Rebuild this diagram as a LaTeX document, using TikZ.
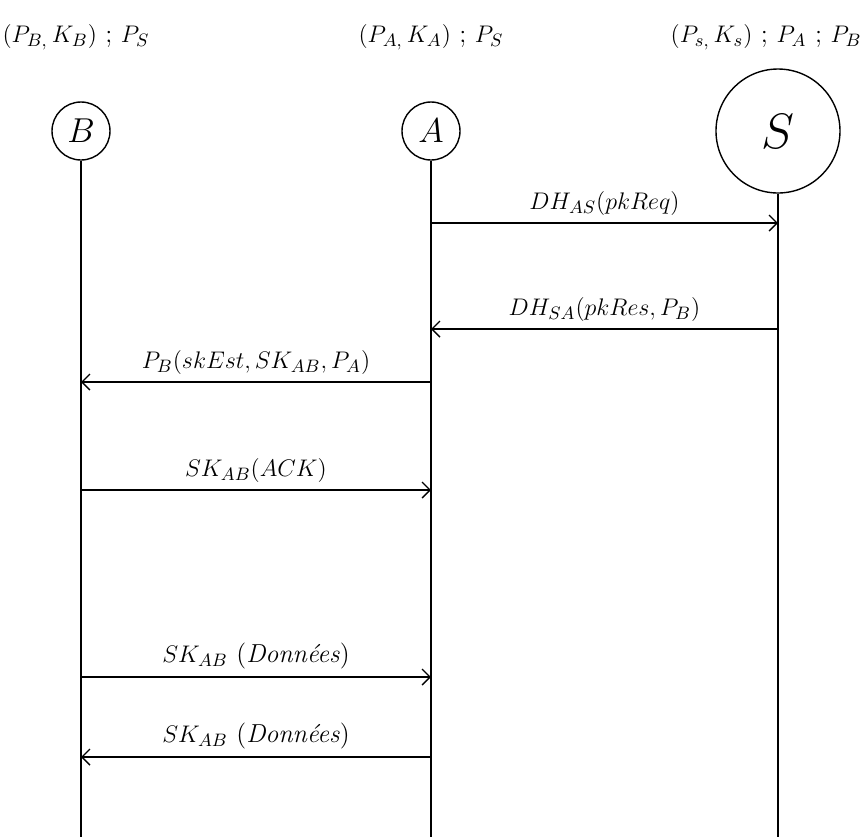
\documentclass[tikz,border=0pt]{standalone}
\usepackage{amsmath, amssymb}
\usepackage{xcolor}
\usepackage{tikz}
\usetikzlibrary{arrows.meta,positioning,calc}

\begin{document}
\begin{tikzpicture}[
  x=0.5pt, y=-0.5pt,
  ent/.style={circle, draw, line width=0.7pt, minimum size=29pt, inner sep=0pt, font=\LARGE},
  msg/.style={-{Straight Barb[length=4pt, width=8pt]}, line width=0.7pt},
  w/.style={inner sep=3.5pt, font=\fontsize{13}{15}\selectfont}
]
  \useasboundingbox (0,0) rectangle (864,837);

  \node[w] (kB) at (76,37) {$(P_{B,}\,K_B)$ ; $P_S$};
  \node[w] (kA) at (431,37) {$(P_{A,}\,K_A)$ ; $P_S$};
  \node[w, anchor=east, inner sep=1pt] (kS) at (864,37) {$(P_{s,}\,K_s)$ ; $P_A$ ; $P_B$};

  \node[ent] (B) at (81,131) {$B$};
  \node[ent] (A) at (431,131) {$A$};
  \node[ent, minimum size=62pt, font=\fontsize{32}{36}\selectfont] (S) at (778,131) {$S$};

  \coordinate (Bbot) at (81,837);
  \coordinate (Abot) at (431,837);
  \coordinate (Sbot) at (778,837);
  \draw[line width=0.7pt] (B) -- (Bbot);
  \draw[line width=0.7pt] (A) -- (Abot);
  \draw[line width=0.7pt] (S) -- (Sbot);

  % messages
  \coordinate (a1) at (431,223);
  \coordinate (s1) at (778,223);
  \coordinate (s2) at (778,329);
  \coordinate (a2) at (431,329);
  \coordinate (a3) at (431,382);
  \coordinate (b3) at (81,382);
  \coordinate (b4) at (81,490);
  \coordinate (a4) at (431,490);
  \coordinate (b5) at (81,677);
  \coordinate (a5) at (431,677);
  \coordinate (a6) at (431,757);
  \coordinate (b6) at (81,757);

  \draw[msg] (a1) -- (s1) node[midway, above, w] {$DH_{AS}(pkReq)$};
  \draw[msg] (s2) -- (a2) node[midway, above, w] {$DH_{SA}(pkRes,P_B)$};
  \draw[msg] (a3) -- (b3) node[midway, above, w] {$P_B(skEst,SK_{AB},P_A)$};
  \draw[msg] (b4) -- (a4) node[midway, above, w] {$SK_{AB}(ACK)$};
  \draw[msg] (b5) -- (a5) node[midway, above, w] {$SK_{AB}$ (\textit{Données})};
  \draw[msg] (a6) -- (b6) node[midway, above, w] {$SK_{AB}$ (\textit{Données})};
\end{tikzpicture}
\end{document}
